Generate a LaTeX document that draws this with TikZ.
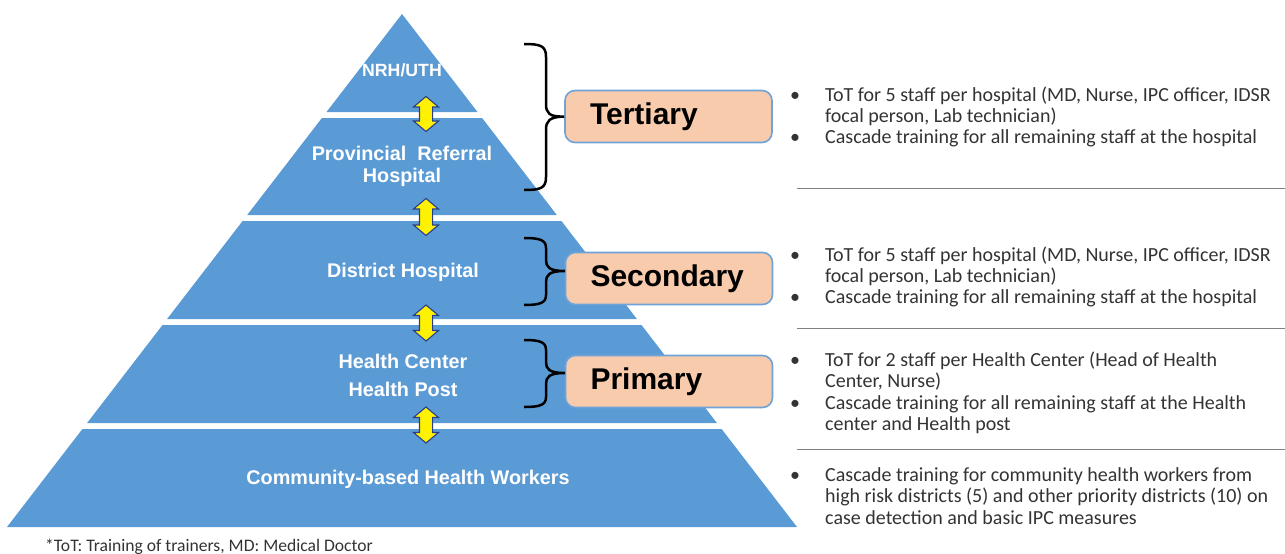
\documentclass[tikz,border=0pt]{standalone}
\usepackage{fontspec}
\setmainfont{Carlito}
\newfontfamily\arialfont{Liberation Sans}
\usetikzlibrary{shapes.arrows}
\definecolor{pblue}{HTML}{5B9BD5}
\definecolor{peach}{HTML}{F8CBAD}
\definecolor{boxedge}{HTML}{6FA3D8}
\definecolor{arrowedge}{HTML}{2A3F8C}
\definecolor{sepgray}{HTML}{808080}
\definecolor{txtgray}{HTML}{333333}
\begin{document}
\begin{tikzpicture}[x=1pt,y=-1pt,
  layer/.style={fill=pblue},
  lvltext/.style={text=white,font=\arialfont\bfseries\fontsize{19.8}{21.5}\selectfont,align=center,inner sep=0pt},
  darrow/.style={double arrow,rotate=90,fill=yellow,draw=arrowedge,line width=1.1pt,
    minimum width=24pt,double arrow head extend=6pt,inner sep=6pt,double arrow tip angle=100},
  lvlbox/.style={rounded corners=10pt,fill=peach,draw=boxedge,line width=1.6pt,
    minimum width=207pt,minimum height=52pt,inner xsep=25pt,text width=157pt,align=left,
    font=\arialfont\bfseries\fontsize{30}{32}\selectfont,text=black},
  bracestyle/.style={draw=black,line width=2.5pt},
  desc/.style={font=\fontsize{20}{21.5}\selectfont,align=left,inner sep=0pt,anchor=base west,text=txtgray},
  bul/.style={font=\fontsize{20}{21.5}\selectfont,inner sep=0pt,anchor=base west,text=txtgray},
  sep/.style={draw=sepgray,line width=1pt}]
\useasboundingbox (0,0) rectangle (1285,554);

% pyramid layers
\fill[layer] (402,14) -- (477.5,112) -- (326.5,112) -- cycle;
\fill[layer] (321.9,118) -- (482.1,118) -- (556.8,215) -- (247.2,215) -- cycle;
\fill[layer] (242.6,221) -- (561.4,221) -- (636.9,319) -- (167.1,319) -- cycle;
\fill[layer] (162.5,325) -- (641.5,325) -- (716.9,423) -- (87.1,423) -- cycle;
\fill[layer] (82.4,429) -- (721.6,429) -- (797,527) -- (7,527) -- cycle;

% pyramid labels
\node[lvltext,font=\arialfont\bfseries\fontsize{17.7}{20}\selectfont] (nrh) at (402,70) {NRH/UTH};
\node[lvltext] (prh) at (402,166.5) {Provincial\ \ Referral\\Hospital};
\node[lvltext] (dh) at (403,272) {District Hospital};
\node[lvltext,font=\arialfont\bfseries\fontsize{19.8}{28}\selectfont] (hc) at (403,375) {Health Center\\Health Post};
\node[lvltext] (chw) at (408,479) {Community-based Health Workers};

% double arrows
\node[darrow,minimum height=35pt] (a1) at (426,114) {};
\node[darrow,minimum height=37pt] (a2) at (426,217) {};
\node[darrow,minimum height=36pt] (a3) at (426,323) {};
\node[darrow,minimum height=36pt] (a4) at (426,425) {};

% level boxes
\node[lvlbox] (tert) at (668.5,116.5) {Tertiary};
\node[lvlbox] (sec) at (669,278.5) {Secondary};
\node[lvlbox] (prim) at (669,381.5) {Primary};

\coordinate (tipT) at (tert.west);
\coordinate (tipS) at (565,271);
\coordinate (tipP) at (565,373);

% braces
\draw[bracestyle] (524,44) .. controls (541,44) and (546,46) .. (546,57) -- (546,104)
  .. controls (546,113) and (549,117) .. (tipT)
  .. controls (549,117) and (546,121) .. (546,130) -- (546,177)
  .. controls (546,188) and (541,190) .. (524,190);
\draw[bracestyle] (524,238) .. controls (540,238) and (546,240) .. (546,248) -- (546,260)
  .. controls (546,267) and (549,271) .. (tipS)
  .. controls (549,271) and (546,275) .. (546,282) -- (546,295)
  .. controls (546,303) and (540,305) .. (524,305);
\draw[bracestyle] (524,340) .. controls (540,340) and (546,342) .. (546,350) -- (546,362)
  .. controls (546,369) and (549,373) .. (tipP)
  .. controls (549,373) and (546,377) .. (546,384) -- (546,397)
  .. controls (546,405) and (540,407) .. (524,407);

% right column text (anchor = baseline of last line)
\node[bul] (bt1) at (790,101) {•};
\node[desc] (t1) at (825,122.5) {ToT for 5 staff per hospital (MD, Nurse, IPC officer, IDSR\\focal person, Lab technician)};
\node[bul] (bt2) at (790,143) {•};
\node[desc] (t2) at (825,143) {Cascade training for all remaining staff at the hospital};
\draw[sep] (797,188) -- (1285,188);

\node[bul] (bs1) at (790,261) {•};
\node[desc] (s1) at (825,282.5) {ToT for 5 staff per hospital (MD, Nurse, IPC officer, IDSR\\focal person, Lab technician)};
\node[bul] (bs2) at (790,303) {•};
\node[desc] (s2) at (825,303) {Cascade training for all remaining staff at the hospital};
\draw[sep] (797,328) -- (1285,328);

\node[bul] (bp1) at (790,366) {•};
\node[desc] (p1) at (825,387.5) {ToT for 2 staff per Health Center (Head of Health\\Center, Nurse)};
\node[bul] (bp2) at (790,409) {•};
\node[desc] (p2) at (825,430.5) {Cascade training for all remaining staff at the Health\\center and Health post};
\draw[sep] (797,449) -- (1285,449);

\node[bul] (bc1) at (790,481) {•};
\node[desc] (c1) at (825,524) {Cascade training for community health workers from\\high risk districts (5) and other priority districts (10) on\\case detection and basic IPC measures};

% footnote
\node[anchor=base west,inner sep=0pt,font=\fontsize{17.6}{20}\selectfont,text=txtgray] (fn) at (45,551) {*ToT: Training of trainers, MD: Medical Doctor};
\end{tikzpicture}
\end{document}
